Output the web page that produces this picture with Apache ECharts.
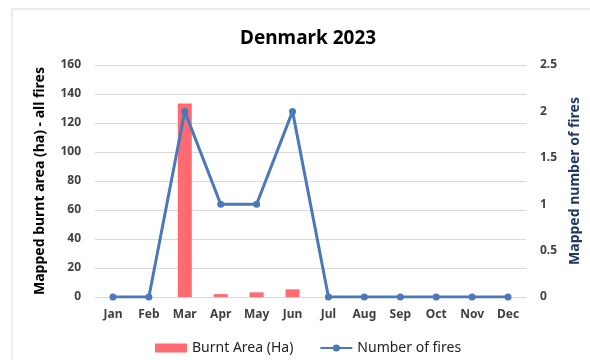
<!DOCTYPE html>
<html><head><meta charset="utf-8">
<script src="https://cdn.jsdelivr.net/npm/echarts@6/dist/echarts.min.js"></script>
<style>html,body{margin:0;padding:0;background:#fff}#c{width:590px;height:360px}</style>
</head><body><div id="c"></div>
<script>
const months = ['Jan','Feb','Mar','Apr','May','Jun','Jul','Aug','Sep','Oct','Nov','Dec'];
const burntArea = [0, 0, 133.5, 2, 3.2, 5.3, 0, 0, 0, 0, 0, 0];
const numFires = [0, 0, 2, 1, 1, 2, 0, 0, 0, 0, 0, 0];
const font = 'Noto Sans';
const chart = echarts.init(document.getElementById('c'));
chart.setOption({
  animation: false,
  textStyle: {fontFamily: font},
  graphic: [{type:'rect', shape:{x:12,y:9,width:590,height:360}, style:{fill:'none', stroke:'#d9d9d9', lineWidth:1}, silent:true}],
  title: {text: 'Denmark 2023', left: 235, top: 24, textStyle:{fontSize:19, fontWeight:'bold', color:'#000', fontFamily:font}},
  grid: {left: 95, right: 63, top: 65, bottom: 63},
  legend: {bottom: 0, left: 150, itemGap: 26, textStyle:{fontSize:14, color:'#222', fontFamily:font},
    data:[{name:'Burnt Area (Ha)', icon:'rect'}, {name:'Number of fires'}], itemWidth: 32, itemHeight: 9},
  xAxis: {type:'category', data: months, axisTick:{show:false}, axisLine:{show:false},
    axisLabel:{fontSize:12, fontWeight:'bold', color:'#404040', margin:12}},
  yAxis: [
    {type:'value', min:0, max:160, interval:20, name:'Mapped burnt area (ha) - all fires', nameLocation:'middle', nameGap:48,
      nameTextStyle:{fontSize:14, fontWeight:'bold', color:'#000'},
      axisLabel:{fontSize:12, fontWeight:'bold', color:'#404040', margin:14}, axisLine:{show:false}, axisTick:{show:false},
      splitLine:{lineStyle:{color:'#d9d9d9'}}},
    {type:'value', min:0, max:2.5, interval:0.5, name:'Mapped number of fires', nameLocation:'middle', nameGap:38,
      nameTextStyle:{fontSize:14, fontWeight:'bold', color:'#1f3864'},
      axisLabel:{fontSize:12, fontWeight:'bold', color:'#404040', margin:14}, axisLine:{show:false}, axisTick:{show:false},
      splitLine:{show:false}}
  ],
  series: [
    {name:'Burnt Area (Ha)', type:'bar', data: burntArea, barWidth:14, itemStyle:{color:'#ff6b70'}},
    {name:'Number of fires', type:'line', yAxisIndex:1, data: numFires, symbol:'circle', symbolSize:7,
      lineStyle:{width:3, color:'#4a78b8'}, itemStyle:{color:'#4a78b8'}}
  ]
});
</script></body></html>
